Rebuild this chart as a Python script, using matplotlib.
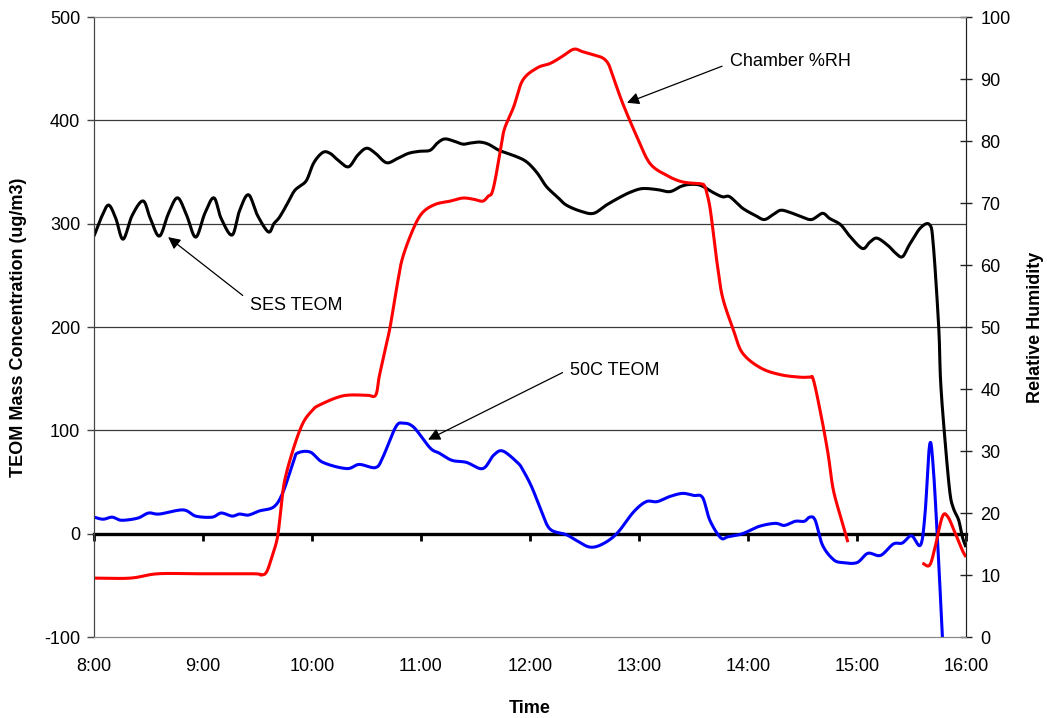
import numpy as np
import matplotlib.pyplot as plt

plt.rcParams['font.family'] = ['Liberation Sans', 'DejaVu Sans']
plt.rcParams['axes.unicode_minus'] = False

## SES TEOM mass concentration (ug/m3)
ses_time = ["8:00", "8:04", "8:08", "8:12", "8:16", "8:21", "8:27", "8:31", "8:36", "8:41",
            "8:46", "8:51", "8:56", "9:01", "9:06", "9:10", "9:16", "9:20", "9:25", "9:30",
            "9:36", "9:39", "9:42", "9:46", "9:50", "9:53", "9:57", "10:01", "10:06", "10:10",
            "10:14", "10:20", "10:25", "10:30", "10:35", "10:41", "10:47", "10:53", "10:59", "11:05",
            "11:09", "11:13", "11:18", "11:23", "11:27", "11:32", "11:37", "11:43", "11:51", "11:58",
            "12:04", "12:09", "12:15", "12:20", "12:28", "12:35", "12:42", "12:50", "12:56", "13:02",
            "13:10", "13:17", "13:23", "13:28", "13:34", "13:41", "13:46", "13:50", "13:57", "14:04",
            "14:09", "14:14", "14:18", "14:23", "14:29", "14:35", "14:41", "14:45", "14:51", "14:56",
            "15:03", "15:07", "15:11", "15:17", "15:21", "15:25", "15:29", "15:35", "15:40", "15:42",
            "15:45", "15:46", "15:48", "15:51", "15:53", "15:56", "15:58", "16:00"]
ses_conc = [288, 306, 318, 305, 285, 308, 322, 305, 288, 310,
            325, 308, 287, 310, 325, 305, 289, 312, 328, 308,
            292, 300, 306, 318, 331, 336, 342, 359, 369, 368,
            362, 355, 366, 373, 368, 359, 363, 368, 370, 371,
            378, 382, 380, 377, 378, 379, 377, 371, 366, 360,
            349, 336, 326, 318, 312, 310, 318, 326, 331, 334,
            333, 331, 336, 338, 337, 330, 326, 326, 315, 308,
            304, 309, 313, 311, 307, 304, 310, 305, 299, 288,
            276, 282, 286, 279, 272, 268, 280, 296, 299, 280,
            200, 149, 100, 42, 25, 13, -3, -13]

## 50C TEOM mass concentration (ug/m3)
c50_time = ["8:00", "8:05", "8:10", "8:15", "8:24", "8:30", "8:36", "8:49", "8:56", "9:05",
            "9:10", "9:16", "9:20", "9:25", "9:31", "9:39", "9:44", "9:50", "9:52", "9:59",
            "10:06", "10:19", "10:26", "10:35", "10:39", "10:46", "10:50", "10:56", "11:05", "11:10",
            "11:17", "11:25", "11:34", "11:40", "11:45", "11:53", "11:56", "12:01", "12:06", "12:11",
            "12:20", "12:26", "12:33", "12:40", "12:48", "12:57", "13:04", "13:10", "13:17", "13:24",
            "13:30", "13:35", "13:39", "13:45", "13:49", "13:57", "14:06", "14:15", "14:20", "14:26",
            "14:31", "14:34", "14:37", "14:41", "14:47", "14:52", "15:00", "15:06", "15:13", "15:20",
            "15:25", "15:30", "15:35", "15:37:30", "15:40", "15:42", "15:45", "15:47", "15:48"]
c50_conc = [16, 14, 16, 13, 15, 20, 19, 23, 17, 16,
            20, 17, 19, 18, 22, 26, 40, 71, 78, 79,
            69, 63, 67, 64, 74, 103, 107, 103, 83, 78,
            71, 69, 63, 76, 80, 69, 62, 45, 23, 4.5,
            -1, -7, -13, -10, 0.5, 21, 31, 31, 36, 39,
            37, 35, 13, -4, -3, 0, 7, 10, 8, 12,
            12, 16, 13, -11, -25, -28, -28, -19, -21, -10,
            -9, -2, -11, 20, 86, 64, -28, -100, -125]

## Chamber relative humidity (%), logging gap after 14:55
rh_time = ["8:00", "8:20", "8:35", "8:58", "9:28", "9:32", "9:35", "9:38", "9:41", "9:43",
           "9:45", "9:50", "9:55", "10:00", "10:04", "10:17", "10:30", "10:35", "10:37", "10:40",
           "10:43", "10:47", "10:50", "10:56", "11:01", "11:08", "11:16", "11:23", "11:29", "11:34",
           "11:37", "11:39", "11:41", "11:44", "11:46", "11:51", "11:56", "12:04", "12:11", "12:17",
           "12:24", "12:29", "12:35", "12:40", "12:43", "12:45", "12:51", "12:59", "13:06", "13:15",
           "13:24", "13:34", "13:36", "13:37", "13:39", "13:41", "13:43", "13:46", "13:52", "13:57",
           "14:07", "14:18", "14:29", "14:34", "14:36", "14:40", "14:44", "14:47", "14:52", "14:55",
           "15:15",
           "15:36", "15:40", "15:43", "15:47", "15:50", "15:54", "15:58", "16:00"]
rh_pct = [9.5, 9.5, 10.2, 10.2, 10.2, 10.0, 10.5, 13.0, 16.1, 21.0,
          25.3, 30.6, 34.5, 36.5, 37.4, 38.9, 39.0, 39.0, 42.0, 46.0,
          50.0, 57.0, 61.3, 66.0, 68.5, 69.8, 70.3, 70.8, 70.6, 70.3,
          71.1, 71.6, 74.0, 79.0, 82.0, 85.5, 89.8, 91.8, 92.5, 93.5,
          94.8, 94.4, 93.9, 93.4, 92.5, 91.0, 86.1, 80.6, 76.4, 74.5,
          73.4, 73.1, 72.8, 72.0, 69.4, 65.0, 60.3, 54.8, 49.5, 45.8,
          43.4, 42.3, 41.9, 41.9, 41.5, 36.1, 29.7, 23.7, 18.4, 15.3,
          np.nan,
          11.9, 11.6, 14.5, 19.4, 19.4, 16.8, 14.0, 12.9]

hours = list(range(8, 17))
hour_labels = [f"{h}:00" for h in hours]


def to_hours(stamps):
    out = []
    for s in stamps:
        parts = [float(p) for p in s.split(":")]
        parts += [0] * (3 - len(parts))
        out.append(parts[0] + parts[1] / 60 + parts[2] / 3600)
    return np.array(out)


def smooth_plot(a, t, y, n=12, **kw):
    # Catmull-Rom rendering between logged points (like a "smoothed line"),
    # broken wherever the logger has a gap (NaN)
    t = np.asarray(t, float)
    y = np.asarray(y, float)
    ok = ~np.isnan(y)
    breaks = np.where(np.diff(ok.astype(int)) != 0)[0] + 1
    for seg in np.split(np.arange(len(y)), breaks):
        if not ok[seg[0]]:
            continue
        p = np.column_stack([t[seg], y[seg]])
        if len(p) > 2:
            p = np.vstack([2 * p[0] - p[1], p, 2 * p[-1] - p[-2]])
            pts = []
            for i in range(1, len(p) - 2):
                p0, p1, p2, p3 = p[i - 1], p[i], p[i + 1], p[i + 2]
                s = np.linspace(0, 1, n, endpoint=False)[:, None]
                pts.append(0.5 * (2 * p1 + (-p0 + p2) * s
                                  + (2 * p0 - 5 * p1 + 4 * p2 - p3) * s ** 2
                                  + (-p0 + 3 * p1 - 3 * p2 + p3) * s ** 3))
            pts.append(p[-2][None, :])
            p = np.vstack(pts)
        a.plot(p[:, 0], p[:, 1], solid_joinstyle='round', solid_capstyle='butt', **kw)


fig = plt.figure(figsize=(10.47, 7.18), dpi=100)
ax = fig.add_axes([0.0898, 0.1128, 0.8328, 0.8635])
ax2 = ax.twinx()

ax.set_xlim(8, 16)
ax.set_ylim(-100, 500)
ax2.set_ylim(0, 100)

# horizontal grid
for v in range(100, 500, 100):
    ax.axhline(v, color='#3a3a3a', lw=0.9, zorder=0)

smooth_plot(ax, to_hours(ses_time), ses_conc, color='black', lw=2.2, zorder=3)
smooth_plot(ax, to_hours(c50_time), c50_conc, color='#0000ff', lw=2.2, zorder=4)
smooth_plot(ax2, to_hours(rh_time), rh_pct, color='#ff0000', lw=2.2)

# category axis crossing at zero
zero_frac = (0 - ax.get_ylim()[0]) / (ax.get_ylim()[1] - ax.get_ylim()[0])
sec = ax.secondary_xaxis(zero_frac)
sec.set_xticks(hours)
sec.set_xticklabels([])
sec.spines['bottom'].set_linewidth(2.4)
sec.spines['bottom'].set_color('black')
sec.tick_params(axis='x', length=5, width=2, direction='out', color='black')

ax.set_xticks(hours)
ax.set_xticklabels(hour_labels)
ax.tick_params(axis='x', length=0, pad=15, labelsize=13)
ax.set_yticks(range(-100, 501, 100))
ax.tick_params(axis='y', length=5, width=1, direction='out', pad=5, labelsize=13, color='#444444')
ax2.set_yticks(range(0, 101, 10))
ax2.tick_params(axis='y', length=9, width=1, direction='inout', pad=6, labelsize=13, color='#222222')

for a in (ax, ax2):
    a.spines['top'].set_color('#8a8a8a')
    a.spines['bottom'].set_color('#8a8a8a')
    a.spines['left'].set_color('#444444')
    a.spines['right'].set_color('#222222')

ax.set_xlabel("Time", fontsize=13, fontweight='bold', labelpad=18)
ax.set_ylabel("TEOM Mass Concentration (ug/m3)", fontsize=13, fontweight='bold', labelpad=12)
ax2.set_ylabel("Relative Humidity", fontsize=13, fontweight='bold', labelpad=12)

arrow = dict(arrowstyle='-|>', color='black', lw=0.9, mutation_scale=18, shrinkB=0)
ax.annotate("Chamber %RH", xy=(12.89, 417), xytext=(13.835, 457), fontsize=13,
            ha='left', va='center', arrowprops=dict(arrow, relpos=(0, 0.4), shrinkA=4), zorder=6)
ax.annotate("SES TEOM", xy=(8.68, 287), xytext=(9.43, 221), fontsize=13,
            ha='left', va='center', arrowprops=dict(arrow, relpos=(0, 0.75), shrinkA=4), zorder=6)
ax.annotate("50C TEOM", xy=(11.065, 91), xytext=(12.37, 158), fontsize=13,
            ha='left', va='center', arrowprops=dict(arrow, relpos=(0, 0.6), shrinkA=4), zorder=6)

fig.savefig("out.png", dpi=100)
